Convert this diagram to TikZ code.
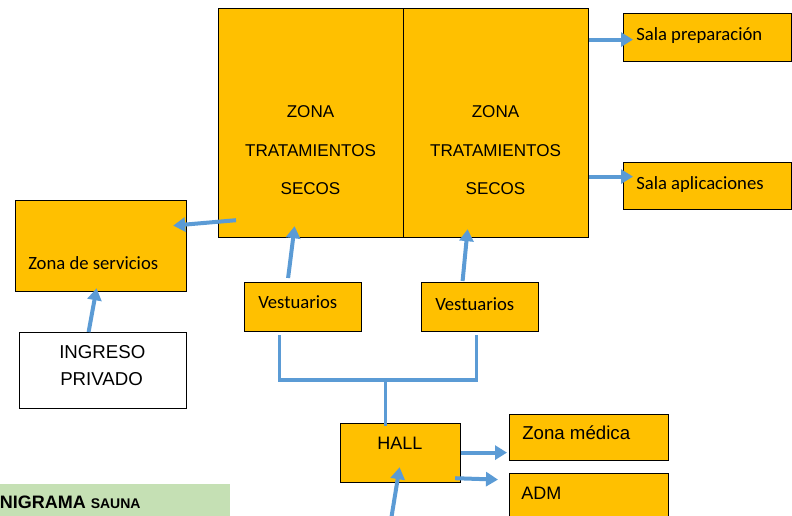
\documentclass[tikz,border=0pt]{standalone}
\usepackage{fontspec}
\setmainfont{Liberation Sans}
\newfontfamily\carlito{Carlito}
\usetikzlibrary{arrows.meta}
\definecolor{zonefill}{HTML}{FFC000}
\definecolor{flowblue}{HTML}{5B9BD5}
\definecolor{titlegreen}{HTML}{C5E0B4}
\tikzset{
  room/.style={draw=black, line width=0.9pt, fill=zonefill, rectangle, inner sep=0pt, anchor=north west},
  plainroom/.style={room, fill=white},
  flow/.style={draw=flowblue, line width=3pt, -{Triangle[length=9pt,width=10.5pt]}},
  link/.style={draw=flowblue, line width=2.6pt},
  lbl/.style={inner sep=0pt, anchor=base west},
  clbl/.style={inner sep=0pt, anchor=base},
  arialtxt/.style={font=\fontsize{14}{16}\selectfont},
  caltxt/.style={font=\carlito\fontsize{14}{16}\selectfont},
  zonetxt/.style={font=\fontsize{12.8}{14}\selectfont}
}
\begin{document}
\begin{tikzpicture}[x=0.75pt, y=-0.75pt]
\useasboundingbox (0,0) rectangle (792,515);

% title strip at the bottom left
\fill[titlegreen] (0,484) rectangle (230,520);
\node[lbl, font=\bfseries\fontsize{13.5}{15}\selectfont] (title) at (-0.5,508)
  {NIGRAMA \fontsize{10.5}{12}\selectfont SAUNA};

% the two treatment zones
\node[room, minimum width=138.75pt, minimum height=171.75pt] (zl) at (218,8) {};
\node[room, minimum width=138.75pt, minimum height=171.75pt] (zr) at (403,8) {};
\foreach \cx/\nm in {310.5/l, 495.5/r} {
  \node[clbl, zonetxt] (z\nm1) at (\cx,117) {ZONA};
  \node[clbl, zonetxt] (z\nm2) at (\cx,156) {TRATAMIENTOS};
  \node[clbl, zonetxt] (z\nm3) at (\cx,194) {SECOS};
}

% rooms on the right
\node[room, minimum width=126pt, minimum height=36pt] (sp) at (623,13) {};
\node[lbl, caltxt] (sptxt) at (636,40) {Sala preparación};
\node[room, minimum width=126pt, minimum height=35.25pt] (sa) at (623,162) {};
\node[lbl, caltxt] (satxt) at (636,189) {Sala aplicaciones};

% service side
\node[room, minimum width=128.25pt, minimum height=68.25pt] (zs) at (15,200) {};
\node[lbl, caltxt] (zstxt) at (28,269) {Zona de servicios};
\node[plainroom, minimum width=125.25pt, minimum height=57pt] (ing) at (19,332) {};
\node[lbl, arialtxt] (ingtxt1) at (59,358) {INGRESO};
\node[lbl, arialtxt] (ingtxt2) at (60,385) {PRIVADO};

% changing rooms
\node[room, minimum width=87.75pt, minimum height=36.75pt] (v1) at (244,282) {};
\node[lbl, caltxt] (v1txt) at (258,308) {Vestuarios};
\node[room, minimum width=87.75pt, minimum height=36.75pt] (v2) at (421,282) {};
\node[lbl, caltxt] (v2txt) at (435,310) {Vestuarios};

% hall and the rooms it serves
\node[room, minimum width=90pt, minimum height=44.25pt] (hall) at (340,423) {};
\node[lbl, font=\fontsize{13.5}{15}\selectfont] (halltxt) at (377,449) {HALL};
\node[room, minimum width=119.25pt, minimum height=34.5pt] (zm) at (509,414) {};
\node[lbl, arialtxt] (zmtxt) at (522,439) {Zona médica};
\node[room, minimum width=119.25pt, minimum height=33pt] (adm) at (509,473) {};
\node[lbl, font=\fontsize{13.5}{15}\selectfont] (admtxt) at (521,499) {ADM};

% entrance from below
\coordinate (entry) at (391,520);

% circulation
\draw[flow] ([shift={(18,-18)}]zl.south west) -- ([shift={(-14,-20.5)}]zs.east);
\draw[flow] ([shift={(-14.5,0)}]ing.north) -- ([shift={(-4.5,-4)}]zs.south);
\draw[flow] ([shift={(-15,-4)}]v1.north) -- ([shift={(-16.5,-12)}]zl.south);
\draw[flow] ([shift={(-17.5,-1)}]v2.north) -- ([shift={(-28.5,-9)}]zr.south);
\draw[flow] ([shift={(0,-83.5)}]zr.east) -- ([shift={(10,2)}]sp.west);
\draw[flow] ([shift={(0,53.5)}]zr.east) -- ([shift={(10,-9.5)}]sa.west);
\draw[link] ([shift={(-23.5,3)}]v1.south) -- ++(0,45) -| ([shift={(-3.5,3)}]v2.south);
\draw[link] ([shift={(-15,-45)}]hall.north) -- ([shift={(-15,3)}]hall.north);
\draw[flow] ([shift={(0,-0.5)}]hall.east) -- ([shift={(-2,15)}]zm.west);
\draw[flow] ([shift={(-6,-5)}]hall.south east) -- ([shift={(-11,-16)}]adm.west);
\draw[flow] (entry) -- ([shift={(-1,-16)}]hall.south);
\end{tikzpicture}
\end{document}
